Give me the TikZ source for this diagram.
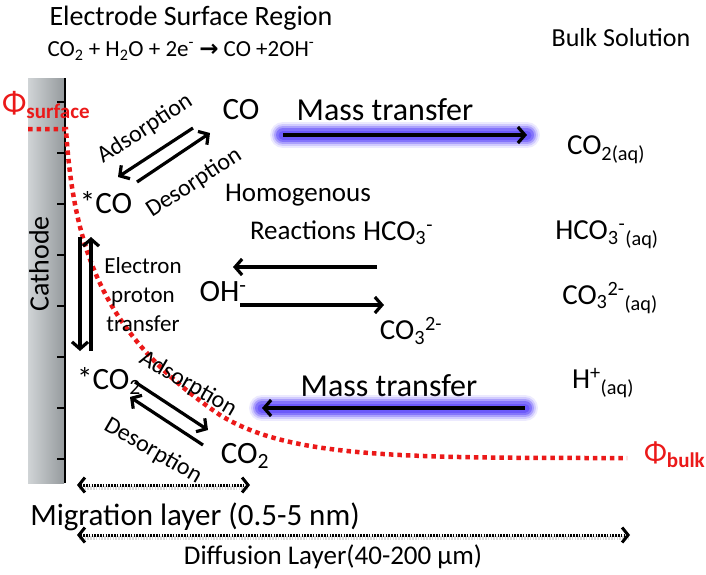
\documentclass[tikz,border=0pt]{standalone}
\usepackage{fontspec}
\setmainfont{Carlito}
\newfontfamily\symfont{DejaVu Sans}
\usetikzlibrary{arrows.meta}
\definecolor{phired}{RGB}{235,25,25}
\definecolor{glowc}{RGB}{100,80,250}
\definecolor{barlight}{RGB}{208,212,214}
\definecolor{bardark}{RGB}{150,155,158}
\newcommand\fs[1]{\fontsize{#1}{#1}\selectfont}
\begin{document}
\begin{tikzpicture}[x=1pt,y=-1pt,
  lbl/.style={inner sep=0pt, text=black},
  arr/.style={line width=3.2pt, -{Straight Barb[length=7pt,width=16pt]}},
  dotarr/.style={line width=3pt, dash pattern=on 1.5pt off 1.3pt,
     {Straight Barb[length=6pt,width=15pt]}-{Straight Barb[length=6pt,width=15pt]}},
  dotshadow/.style={line width=3.5pt, black!15, dash pattern=on 1.5pt off 1.3pt},
  redline/.style={phired, line width=4.5pt, dash pattern=on 4.5pt off 4pt},
  glow/.style={glowc, line cap=round}]
\useasboundingbox (0,0) rectangle (706,574);

% cathode
\shade[left color=barlight, right color=bardark] (28,78) rectangle (64,483);
\node[lbl, rotate=90, font=\fs{28}] (cathode) at (39,264) {Cathode};
\coordinate (ctop) at (65,78);
\coordinate (cbot) at (65,483);
\draw[line width=2.8pt] (ctop) -- (cbot);
\foreach \k in {0,...,7} {
  \coordinate (t\k a) at (57,102+51*\k);
  \coordinate (t\k b) at (65,102+51*\k);
  \draw[line width=2pt] (t\k a) -- (t\k b);
}

% headers
\node[lbl, font=\fs{28}] (title) at (191,18) {Electrode Surface Region};
\node[lbl, font=\fs{23}] (eq) at (181,51) {CO\textsubscript{2} + H\textsubscript{2}O + 2e\textsuperscript{-} {\symfont\bfseries →} CO +2OH\textsuperscript{-}};
\node[lbl, font=\fs{26}] (bulk) at (621,38) {Bulk Solution};

% potential curve
\node[lbl, anchor=west, text=phired] (phis) at (2,105) {\fs{32}Φ\raisebox{-5pt}{\fs{21}\bfseries surface}};
\node[lbl, anchor=west, text=phired] (phib) at (644,455) {\fs{30}Φ\raisebox{-5pt}{\fs{21}\bfseries bulk}};
\coordinate (r0) at (28,129);
\coordinate (r1) at (66,129);
\coordinate (r9) at (627,458);
\draw[redline] (r0) -- (r1) .. controls (74,260) and (110,340) .. (220,415)
   .. controls (290,458) and (400,458) .. (r9);

% top species and arrows
\node[lbl, font=\fs{31}] (co) at (241,110) {CO};
\node[lbl, font=\fs{31}] (sco) at (106,203) {*CO};
\node[lbl, font=\fs{32}] (mt1) at (385,110) {Mass transfer};
\node[lbl, font=\fs{29}] (co2aq) at (606,150) {CO\textsubscript{2(aq)}};
\coordinate (m1s) at (283,135);
\coordinate (m1e) at (527,135);
\foreach \w/\o in {26/0.12,22/0.2,18/0.35,14/0.55,9/0.75}
  \draw[glow, line width=\w pt, opacity=\o] (m1s) -- (m1e);
\draw[arr] (m1s) -- (m1e);

\coordinate (a1s) at (193,128); \coordinate (a1e) at (118,177);
\coordinate (a2s) at (137,182); \coordinate (a2e) at (210,133);
\draw[arr] (a1s) -- (a1e);
\draw[arr] (a2s) -- (a2e);
\node[lbl, rotate=33, font=\fs{24}] (ads1) at (145,129) {Adsorption};
\node[lbl, rotate=33, font=\fs{24}] (des1) at (194,183) {Desorption};

% electron proton transfer
\coordinate (e1s) at (80,237); \coordinate (e1e) at (80,351);
\coordinate (e2s) at (91,351); \coordinate (e2e) at (91,237);
\draw[arr] (e1s) -- (e1e);
\draw[arr] (e2s) -- (e2e);
\node[lbl, align=center, font=\fs{23}] (ept) at (143,295) {Electron\\[6pt]proton\\[6pt]transfer};

% homogeneous reactions
\node[lbl, font=\fs{27}] (homo) at (298,195) {Homogenous};
\node[lbl, font=\fs{27}] (react) at (303,230) {Reactions};
\node[lbl, font=\fs{29}] (hco3) at (398,233) {HCO\textsubscript{3}\textsuperscript{-}};
\node[lbl, font=\fs{31}] (oh) at (223,292) {OH\textsuperscript{-}};
\node[lbl, font=\fs{29}] (co3) at (411,331) {CO\textsubscript{3}\textsuperscript{2-}};
\coordinate (h1s) at (377,267); \coordinate (h1e) at (233,267);
\coordinate (h2s) at (240,305); \coordinate (h2e) at (384,305);
\draw[arr] (h1s) -- (h1e);
\draw[arr] (h2s) -- (h2e);

% bulk species
\node[lbl, font=\fs{29}] (hco3aq) at (607,235) {HCO\textsubscript{3}\textsuperscript{-}\textsubscript{(aq)}};
\node[lbl, font=\fs{29}] (co3aq) at (610,298) {CO\textsubscript{3}\textsuperscript{2-}\textsubscript{(aq)}};
\node[lbl, font=\fs{29}] (haq) at (603,383) {H\textsuperscript{+}\textsubscript{(aq)}};

% bottom species
\node[lbl, font=\fs{32}] (mt2) at (389,386) {Mass transfer};
\coordinate (m2s) at (525,408);
\coordinate (m2e) at (262,408);
\foreach \w/\o in {26/0.12,22/0.2,18/0.35,14/0.55,9/0.75}
  \draw[glow, line width=\w pt, opacity=\o] (m2s) -- (m2e);
\draw[arr] (m2s) -- (m2e);

\node[lbl, font=\fs{31}] (sco2) at (109,381) {*CO\textsubscript{2}};
\node[lbl, font=\fs{31}] (co2) at (245,456) {CO\textsubscript{2}};
\coordinate (b1s) at (135,382); \coordinate (b1e) at (208,430);
\coordinate (b2s) at (203,445); \coordinate (b2e) at (130,397);
\draw[arr] (b1s) -- (b1e);
\draw[arr] (b2s) -- (b2e);
\node[lbl, rotate=-30, font=\fs{24}] (ads2) at (188,384) {Adsorption};
\node[lbl, rotate=-30, font=\fs{24}] (des2) at (153,451) {Desorption};

% layers
\coordinate (ml) at (77,485); \coordinate (mr) at (250,485);
\coordinate (dl) at (77,535); \coordinate (dr) at (630,535);
\coordinate (mls) at (79,488); \coordinate (mrs) at (248,488);
\coordinate (dls) at (79,538); \coordinate (drs) at (628,538);
\draw[dotshadow] (mls) -- (mrs);
\draw[dotshadow] (dls) -- (drs);
\draw[dotarr] (ml) -- (mr);
\draw[dotarr] (dl) -- (dr);
\node[lbl, font=\fs{31}] (mig) at (195,517) {Migration layer (0.5-5 nm)};
\node[lbl, font=\fs{27}] (dif) at (333,557) {Diffusion Layer(40-200 μm)};
\end{tikzpicture}
\end{document}
